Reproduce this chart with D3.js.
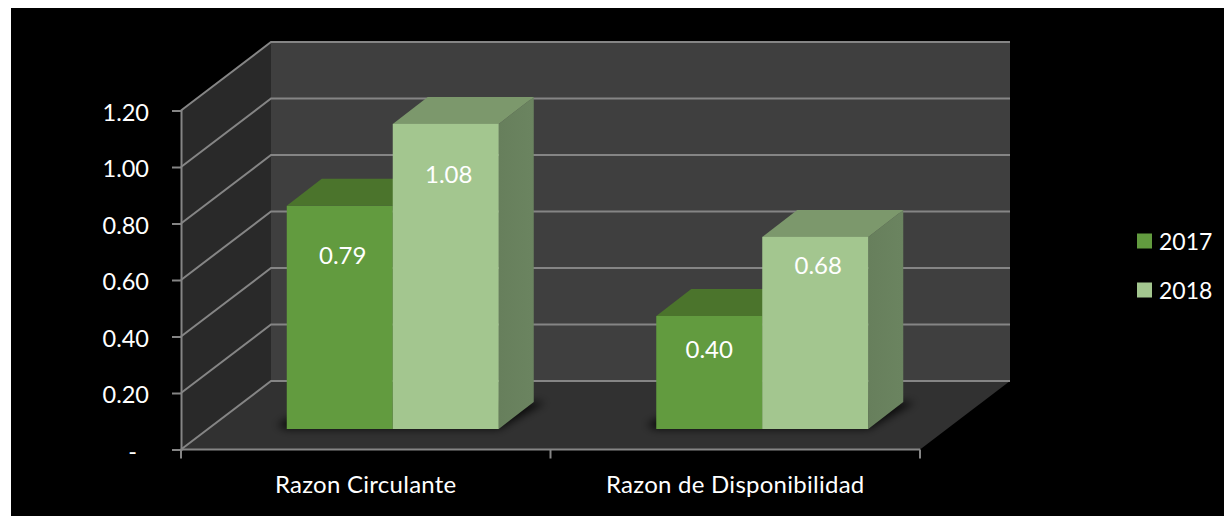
<!DOCTYPE html>
<html><head><meta charset="utf-8">
<script src="https://cdn.jsdelivr.net/npm/d3@7"></script>
<style>
html,body{margin:0;padding:0;background:#fff;overflow:hidden}
svg{display:block}
text{font-family:Lato,"Open Sans",sans-serif;fill:#fff}
</style></head><body>
<svg id="c" width="1224" height="516"></svg>
<script>
const categories = ["Razon Circulante", "Razon de Disponibilidad"];
const seriesNames = ["2017", "2018"];
const values2017 = [0.79, 0.40];
const values2018 = [1.08, 0.68];
const tickValues = [0, 0.2, 0.4, 0.6, 0.8, 1.0, 1.2];
const tickLabels = ["-", "0.20", "0.40", "0.60", "0.80", "1.00", "1.20"];

const seriesValues = [values2017, values2018];
const colors = [
  {front:"#629b3f", top:"#4b742c", side:"#4b742c"},
  {front:"#a3c68f", top:"#7c986c", side:"#677f5c"}
];
const wall = {back:"#3f3f3f", side:"#292929", floor:"#313131", grid:"#858585"};

const svg = d3.select("#c");
const defs = svg.append("defs");
defs.append("filter").attr("id","blur").attr("x","-30%").attr("y","-30%").attr("width","160%").attr("height","160%")
  .append("feGaussianBlur").attr("stdDeviation",4);
const sideGrad = defs.append("linearGradient").attr("id","sideGrad").attr("x1",0).attr("x2",1).attr("y1",0).attr("y2",0);
sideGrad.append("stop").attr("offset",0).attr("stop-color","#677f5c");
sideGrad.append("stop").attr("offset",1).attr("stop-color","#6b8460");

svg.append("rect").attr("x",11).attr("y",8).attr("width",1213).attr("height",508).attr("fill","#000");

const y = d3.scaleLinear().domain([0,1.2]).range([449.5,110.5]);
const xAxisScale = d3.scaleBand().domain(categories).range([181,920]);
const depth = {dx:90, dy:-68.5};
const floorGap = {dx:26, dy:-20.5};
const barDepth = {dx:35, dy:-27};

const pts = a => a.map(p=>p.join(",")).join(" ");

// walls and floor
const y0=y(0), yT=y(1.2), xL=xAxisScale.range()[0], xR=xAxisScale.range()[1];
svg.append("polygon").attr("fill",wall.back)
  .attr("points",pts([[xL+depth.dx,yT+depth.dy],[xR+depth.dx,yT+depth.dy],[xR+depth.dx,y0+depth.dy],[xL+depth.dx,y0+depth.dy]]));
svg.append("polygon").attr("fill",wall.side)
  .attr("points",pts([[xL,yT],[xL+depth.dx,yT+depth.dy],[xL+depth.dx,y0+depth.dy],[xL,y0]]));
svg.append("polygon").attr("fill",wall.floor)
  .attr("points",pts([[xL,y0],[xL+depth.dx,y0+depth.dy],[xR+depth.dx,y0+depth.dy],[xR,y0]]));

// grid lines on both walls
const grid = svg.append("g").attr("fill","none").attr("stroke",wall.grid);
grid.selectAll("polyline").data(tickValues).join("polyline")
  .attr("stroke-width",2)
  .attr("points",d=>pts([[xL,y(d)],[xL+depth.dx,y(d)+depth.dy],[xR+depth.dx,y(d)+depth.dy]]));

// bars
const x0 = d3.scaleBand().domain(categories).range([xL+floorGap.dx+1,xR+floorGap.dx+1]);
const x1 = d3.scaleBand().domain(seriesNames).range([0,x0.bandwidth()]).paddingInner(0).paddingOuter(0.743);
const baseY = y0+floorGap.dy;
const h = v => y0-y(v);

// soft shadows below the bars
const shadow = svg.append("g").attr("filter","url(#blur)");
categories.forEach(c=>{
  const l=x0(c)+x1(seriesNames[0]), r=x0(c)+x1(seriesNames[1])+x1.bandwidth();
  shadow.append("polygon").attr("fill","#000").attr("opacity",0.8)
    .attr("points",pts([[l,baseY],[r,baseY],[r+barDepth.dx+12,baseY+barDepth.dy],[l+barDepth.dx,baseY+barDepth.dy],[l-10,baseY-4]]));
});

seriesNames.forEach((s,i)=>{
  const g = svg.append("g");
  const data = categories.map((c,j)=>({c,v:seriesValues[i][j]}));
  const X = d=>x0(d.c)+x1(s), W=x1.bandwidth();
  const T = d=>baseY-h(d.v);
  g.selectAll(".side").data(data).join("polygon").attr("fill",i?"url(#sideGrad)":colors[i].side)
    .attr("points",d=>pts([[X(d)+W,T(d)],[X(d)+W+barDepth.dx,T(d)+barDepth.dy],[X(d)+W+barDepth.dx,baseY+barDepth.dy],[X(d)+W,baseY]]));
  g.selectAll(".top").data(data).join("polygon").attr("fill",colors[i].top)
    .attr("points",d=>pts([[X(d),T(d)],[X(d)+barDepth.dx,T(d)+barDepth.dy],[X(d)+W+barDepth.dx,T(d)+barDepth.dy],[X(d)+W,T(d)]]));
  g.selectAll(".front").data(data).join("rect").attr("fill",colors[i].front)
    .attr("x",X).attr("y",T).attr("width",W).attr("height",d=>h(d.v));
});

// value labels (offsets from the top of each bar)
const labelDrop = [[50,33],[51,29]];
const labelShift = [[3,0],[3,3]];
seriesNames.forEach((s,i)=>{
  categories.forEach((c,j)=>{
    const v=seriesValues[i][j];
    svg.append("text").attr("text-anchor","middle").attr("font-size",24)
      .attr("x",x0(c)+x1(s)+x1.bandwidth()/2+labelShift[i][j])
      .attr("y",baseY-h(v)+labelDrop[i][j]+8.5)
      .text(v.toFixed(2));
  });
});

// value axis
const yAxis = d3.axisLeft(y).tickValues(tickValues).tickSize(9).tickPadding(23)
  .tickFormat((d,i)=>tickLabels[i]);
const ya = svg.append("g").attr("transform",`translate(${xL},0)`).call(yAxis);
ya.select(".domain").attr("stroke",wall.grid).attr("stroke-width",2);
ya.selectAll(".tick line").attr("stroke",wall.grid).attr("stroke-width",2);
ya.selectAll(".tick text").attr("font-size",23.5).attr("dy","0.42em").style("font-family","Lato,sans-serif").attr("fill","#fff");
ya.selectAll(".tick text").filter(d=>d===0).attr("dx",-12);

// category axis
const xAxis = d3.axisBottom(xAxisScale).tickSize(0).tickPadding(26);
const xa = svg.append("g").attr("transform",`translate(0,${y0})`).call(xAxis);
xa.select(".domain").remove();
xa.selectAll(".tick text").attr("font-size",24).style("font-family","Lato,sans-serif").style("letter-spacing","0.26px").attr("fill","#fff");
svg.append("line").attr("x1",xL).attr("x2",xR).attr("y1",y0).attr("y2",y0).attr("stroke",wall.grid).attr("stroke-width",2);
svg.append("g").selectAll("line").data(d3.range(categories.length+1)).join("line")
  .attr("x1",i=>xL+i*xAxisScale.bandwidth()).attr("x2",i=>xL+i*xAxisScale.bandwidth())
  .attr("y1",y0).attr("y2",y0+9).attr("stroke",wall.grid).attr("stroke-width",2);

// legend
const legendY = d3.scalePoint().domain(seriesNames).range([241,290]);
const lg = svg.append("g").selectAll("g").data(seriesNames).join("g")
  .attr("transform",d=>`translate(1137,${legendY(d)})`);
lg.append("rect").attr("y",-7.5).attr("width",15).attr("height",15).attr("fill",(d,i)=>colors[i].front);
lg.append("text").attr("x",22).attr("y",8.5).attr("font-size",23).text(d=>d);
</script>
</body></html>
